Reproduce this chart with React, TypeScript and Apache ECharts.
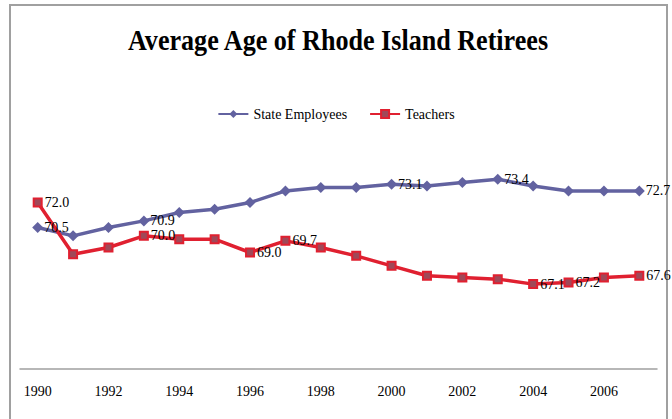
import React, { useEffect, useRef } from "react";
import * as echarts from "echarts";

const years = ["1990","1991","1992","1993","1994","1995","1996","1997","1998","1999","2000","2001","2002","2003","2004","2005","2006","2007"];
const stateEmployees = [70.5,70.0,70.5,70.9,71.4,71.6,72.0,72.7,72.9,72.9,73.1,73.0,73.2,73.4,73.0,72.7,72.7,72.7];
const teachers = [72.0,68.9,69.3,70.0,69.8,69.8,69.0,69.7,69.3,68.8,68.2,67.6,67.5,67.4,67.1,67.2,67.5,67.6];
const stateLabeled = [0,3,10,13,17];
const teacherLabeled = [0,3,6,7,14,15,17];
const titleText = "Average Age of Rhode Island Retirees";

const serif = "'Liberation Serif', 'Times New Roman', serif";

function build(values: number[], labeled: number[]) {
  return values.map((v, i) => ({
    value: v,
    label: { show: labeled.includes(i) },
  }));
}

export default function App() {
  const ref = useRef<HTMLDivElement>(null);
  useEffect(() => {
    const chart = echarts.init(ref.current!, null, { renderer: "svg" });
    chart.setOption({
      animation: false,
      backgroundColor: "#ffffff",
      legend: {
        top: 102,
        left: "center",
        itemWidth: 30,
        itemHeight: 10,
        itemGap: 22,
        textStyle: { fontFamily: serif, fontSize: 14, color: "#000" },
        data: ["State Employees", "Teachers"],
      },
      graphic: [
        {
          type: "rect",
          shape: { x: 10, y: 5, width: 657, height: 440 },
          style: { fill: "none", stroke: "#a0a0a0", lineWidth: 2 },
          silent: true,
        },
        {
          type: "text",
          x: 338,
          y: 40,
          scaleX: 0.87,
          style: {
            text: titleText,
            fontFamily: serif,
            fontWeight: "bold",
            fontSize: 30,
            fill: "#000",
            align: "center",
            verticalAlign: "middle",
          },
          silent: true,
        },
      ],
      grid: { left: 20, right: 15, top: 136, bottom: 50 },
      xAxis: {
        type: "category",
        data: years,
        boundaryGap: true,
        axisLine: { lineStyle: { color: "#a0a0a0", width: 1.5 } },
        axisTick: { show: false },
        axisLabel: { interval: 1, fontFamily: serif, fontSize: 14, color: "#000", margin: 15 },
      },
      yAxis: {
        type: "value",
        min: 62,
        max: 76,
        show: false,
        splitLine: { show: false },
      },
      series: [
        {
          name: "State Employees",
          type: "line",
          data: build(stateEmployees, stateLabeled),
          color: "#6262a0",
          lineStyle: { width: 3.5, color: "#6262a0" },
          symbol: "diamond",
          symbolSize: 11,
          itemStyle: { color: "#6262a0" },
          label: {
            position: "right",
            distance: 1,
            fontFamily: serif,
            fontSize: 14,
            color: "#000",
            formatter: (p: any) => Number(p.value).toFixed(1),
          },
        },
        {
          name: "Teachers",
          type: "line",
          data: build(teachers, teacherLabeled),
          color: "#e02030",
          lineStyle: { width: 3.5, color: "#e02030" },
          symbol: "rect",
          symbolSize: 8,
          itemStyle: { color: "#a04858", borderColor: "#e02030", borderWidth: 2 },
          label: {
            position: "right",
            distance: 2,
            fontFamily: serif,
            fontSize: 14,
            color: "#000",
            formatter: (p: any) => Number(p.value).toFixed(1),
          },
        },
      ],
    });
    return () => chart.dispose();
  }, []);
  return (
    <div
      ref={ref}
      style={{ position: "fixed", left: 0, top: 0, width: 672, height: 419 }}
    />
  );
}
